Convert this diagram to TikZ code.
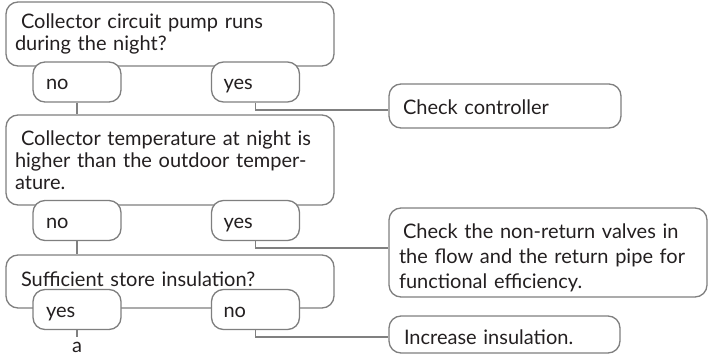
\documentclass[tikz,border=0pt]{standalone}
\usepackage{fontspec}
\setmainfont{Lato}
\definecolor{bordergray}{HTML}{7F7F7F}
\definecolor{linegray}{HTML}{808080}
\definecolor{textcol}{HTML}{231F20}
\begin{document}
\begin{tikzpicture}[x=1pt,y=-1pt,
  every node/.style={text=textcol, font=\fontsize{20}{22}\selectfont},
  bigbox/.style={draw=bordergray, line width=1.3pt, rounded corners=12pt, fill=white,
    inner ysep=0pt, align=left},
  pill/.style={draw=bordergray, line width=1.3pt, rounded corners=12pt, fill=white,
    minimum height=40pt, minimum width=88pt, inner sep=0pt, text height=15pt, text depth=0pt},
  conn/.style={draw=linegray, line width=1.3pt}]
\useasboundingbox (0,0) rectangle (708,355);

% question boxes
\node[bigbox, minimum width=328pt, minimum height=64pt, text width=310pt, inner xsep=9pt] (q1) at (170,34)
  {\hspace{6pt}Collector circuit pump runs\\during the night?};
\node[bigbox, minimum width=328pt, minimum height=90pt, text width=310pt, inner xsep=9pt] (q2) at (170,160)
  {\hspace{6pt}Collector temperature at night is\\higher than the outdoor temper-\\ature.};
\node[bigbox, minimum width=328pt, minimum height=53pt, text width=310pt, inner xsep=9pt] (q3) at (170,281.5)
  {\raisebox{5pt}{\hspace{6pt}Sufficient store insulation?}};

% answer pills
\node[pill] (q1no) at (77,82) {\makebox[62pt][l]{no}};
\node[pill] (q1yes) at (255.5,82) {\makebox[64pt][l]{yes}};
\node[pill] (q2no) at (77,220.5) {\makebox[62pt][l]{no}};
\node[pill] (q2yes) at (255.5,220.5) {\makebox[64pt][l]{yes}};
\node[pill] (q3yes) at (77,309.5) {\makebox[62pt][l]{yes}};
\node[pill] (q3no) at (255.5,309.5) {\makebox[64pt][l]{no}};

% action boxes
\node[bigbox, minimum width=232pt, minimum height=44pt, text width=204pt, inner xsep=14pt] (cc) at (505,106)
  {\rule{0pt}{17pt}Check controller};
\node[bigbox, minimum width=318pt, minimum height=89pt, text width=298pt, inner xsep=10pt,
  font=\fontsize{20}{25}\selectfont] (nr) at (548,252.5)
  {\rule{0pt}{25pt}\hspace{4pt}Check the non-return valves in\\the flow and the return pipe for\\functional efficiency.};
\node[bigbox, minimum width=231pt, minimum height=37pt, text width=201pt, inner xsep=15pt] (ins) at (504.5,334.5)
  {\rule{0pt}{21pt}Increase insulation.};

\node[inner sep=0pt, anchor=base] (a) at (77,352) {a};

% connectors
\draw[conn] (q1no.south) -- (q1no.south |- q2.north);
\draw[conn] (q1yes.south) |- ([yshift=-4pt]cc.west);
\draw[conn] (q2no.south) -- (q2no.south |- q3.north);
\draw[conn] (q2yes.south) |- ([yshift=4.5pt]nr.west);
\draw[conn] (q3no.south) |- ([yshift=-2.5pt]ins.west);
\draw[conn] (q3yes.south) -- ([yshift=4pt]a.north);
\end{tikzpicture}
\end{document}
